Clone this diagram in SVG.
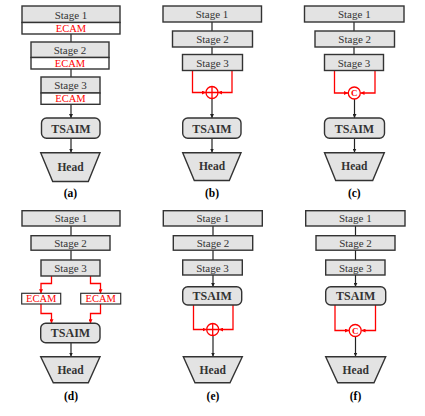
<svg xmlns="http://www.w3.org/2000/svg" width="425" height="416" viewBox="0 0 425 416">
<style>
.st{fill:#e3e3e3;stroke:#333;stroke-width:1.4}
.ec{fill:#fff;stroke:#333;stroke-width:1.4}
.ecr{fill:#fff;stroke:#333;stroke-width:1.2}
.t{font-size:11px;fill:#333;text-anchor:middle}
.e{font-size:10.5px;fill:#f00;text-anchor:middle}
.b{font-size:12px;font-weight:bold;fill:#333;text-anchor:middle}
.h{font-size:11.5px;font-weight:bold;fill:#333;text-anchor:middle}
.lb{font-size:11.5px;font-weight:bold;fill:#000;text-anchor:middle}
.k{fill:none;stroke:#222;stroke-width:1.2}
.ka{fill:none;stroke:#222;stroke-width:1.2;marker-end:url(#ak)}
.r{fill:none;stroke:#f00;stroke-width:1.3}
.ra{fill:none;stroke:#f00;stroke-width:1.3;marker-end:url(#ar)}
.op{fill:#fff;stroke:#f00;stroke-width:1.3}
.c{font-size:9px;font-weight:bold;fill:#f00;text-anchor:middle}
</style>
<defs>
<marker id="ak" viewBox="0 0 6 6" refX="6" refY="3" markerWidth="4" markerHeight="4" orient="auto" markerUnits="userSpaceOnUse"><path d="M0,0 L6,3 L0,6 z" fill="#222"/></marker>
<marker id="ar" viewBox="0 0 6 6" refX="6" refY="3" markerWidth="4" markerHeight="4" orient="auto" markerUnits="userSpaceOnUse"><path d="M0,0 L6,3 L0,6 z" fill="#f00"/></marker>
</defs>

<g id="connectors">
<path class="k" d="M71,34 V42 M71,69 V77"/>
<path class="ka" d="M71,104 V118"/>
<path class="ka" d="M71,138 V152.5"/>
<path class="k" d="M212,22 V31 M212,47 V54.5"/>
<path class="ra" d="M192.5,70.5 V92.5 H206"/>
<path class="ra" d="M232,70.5 V92.5 H218"/>
<path class="ka" d="M212,98.5 V118"/>
<path class="ka" d="M212,138 V152.5"/>
<path class="k" d="M354,22 V31 M354,47 V54.5"/>
<path class="ra" d="M334.5,70.5 V93 H348"/>
<path class="ra" d="M375,70.5 V93 H360.5"/>
<path class="ka" d="M354.5,99 V118"/>
<path class="ka" d="M354.5,138 V152.5"/>
<path class="k" d="M71,226 V235.5 M71,250 V260"/>
<path class="ra" d="M51.5,276 V283.5 H41 V293.3"/>
<path class="ra" d="M90.5,276 V283.5 H100.5 V293.3"/>
<path class="ra" d="M41,304 V313.5 H51.5 V323.3"/>
<path class="ra" d="M100.5,304 V313.5 H90.5 V323.3"/>
<path class="ka" d="M71,342.7 V356.5"/>
<path class="k" d="M213,226 V235.5 M213,250 V260"/>
<path class="ka" d="M213,275 V286.7"/>
<path class="ra" d="M193.5,305 V329.5 H206.5"/>
<path class="ra" d="M233,305 V329.5 H219"/>
<path class="ka" d="M213,335.5 V356.5"/>
<path class="k" d="M355.5,226 V235.5 M355.5,250 V260"/>
<path class="ka" d="M355.5,275 V286.7"/>
<path class="ra" d="M335,305 V330.5 H349"/>
<path class="ra" d="M375.5,305 V330.5 H361.5"/>
<path class="ka" d="M355.5,336.5 V356.5"/>
</g>

<g font-family="Liberation Serif, Times New Roman, serif">
<g id="a-stage1"><rect class="st" x="22" y="6" width="98" height="16.5"/><rect class="ec" x="22" y="22.5" width="98" height="11.5"/><text class="t" x="71" y="18.5">Stage 1</text><text class="e" x="71" y="32">ECAM</text></g>
<g id="a-stage2"><rect class="st" x="31" y="42" width="78" height="15.5"/><rect class="ec" x="31" y="57.5" width="78" height="11.5"/><text class="t" x="70" y="54">Stage 2</text><text class="e" x="70" y="67">ECAM</text></g>
<g id="a-stage3"><rect class="st" x="41" y="77" width="59" height="16"/><rect class="ec" x="41" y="93" width="59" height="11.3"/><text class="t" x="70.5" y="89">Stage 3</text><text class="e" x="70.5" y="102">ECAM</text></g>
<g id="a-tsaim"><rect class="st" x="41.5" y="118" width="58.5" height="20.3" rx="5"/><text class="b" x="71" y="132.5">TSAIM</text></g>
<g id="a-head"><path class="st" d="M40.7,152.7 H100 L88.3,181.5 H52.7 Z"/><text class="h" x="70.5" y="170.5">Head</text></g>
<text class="lb" x="70.5" y="197">(a)</text>

<g id="b-stage1"><rect class="st" x="163" y="6" width="98.5" height="16"/><text class="t" x="212" y="18">Stage 1</text></g>
<g id="b-stage2"><rect class="st" x="172.5" y="31" width="80" height="16"/><text class="t" x="212.5" y="43">Stage 2</text></g>
<g id="b-stage3"><rect class="st" x="182.5" y="54.5" width="60" height="16"/><text class="t" x="212.5" y="66.5">Stage 3</text></g>
<g id="b-add"><circle class="op" cx="212" cy="92.5" r="6"/><path class="r" d="M206,92.5 H218 M212,86.5 V98.5"/></g>
<g id="b-tsaim"><rect class="st" x="182.7" y="118" width="58.3" height="20.3" rx="5"/><text class="b" x="212" y="132.5">TSAIM</text></g>
<g id="b-head"><path class="st" d="M182.7,152.7 H241 L229.3,180.5 H194.3 Z"/><text class="h" x="212" y="170">Head</text></g>
<text class="lb" x="212" y="197">(b)</text>

<g id="c-stage1"><rect class="st" x="304.5" y="6" width="99.5" height="16"/><text class="t" x="354.3" y="18">Stage 1</text></g>
<g id="c-stage2"><rect class="st" x="315" y="31" width="79.5" height="16"/><text class="t" x="354.7" y="43">Stage 2</text></g>
<g id="c-stage3"><rect class="st" x="324.5" y="54.5" width="59" height="16"/><text class="t" x="354" y="66.5">Stage 3</text></g>
<g id="c-concat"><circle class="op" cx="354.3" cy="93" r="6"/><text class="c" x="354.3" y="96.2">C</text></g>
<g id="c-tsaim"><rect class="st" x="324.5" y="118" width="60" height="20.3" rx="5"/><text class="b" x="354.5" y="132.5">TSAIM</text></g>
<g id="c-head"><path class="st" d="M324.5,152.7 H384.3 L372.7,180.5 H335.7 Z"/><text class="h" x="354.3" y="170">Head</text></g>
<text class="lb" x="354.3" y="197">(c)</text>

<g id="d-stage1"><rect class="st" x="22" y="210.7" width="98" height="15.3"/><text class="t" x="71" y="222.3">Stage 1</text></g>
<g id="d-stage2"><rect class="st" x="31" y="235.7" width="79" height="14.5"/><text class="t" x="70.5" y="246.7">Stage 2</text></g>
<g id="d-stage3"><rect class="st" x="41" y="260" width="59" height="16"/><text class="t" x="70.5" y="272">Stage 3</text></g>
<g id="d-ecam1"><rect class="ecr" x="21.7" y="293.3" width="39" height="10.7"/><text class="e" x="41.2" y="302.3">ECAM</text></g>
<g id="d-ecam2"><rect class="ecr" x="80.7" y="293.3" width="40" height="10.7"/><text class="e" x="100.7" y="302.3">ECAM</text></g>
<g id="d-tsaim"><rect class="st" x="40.7" y="323.3" width="59.3" height="19.4" rx="5"/><text class="b" x="70.5" y="337.3">TSAIM</text></g>
<g id="d-head"><path class="st" d="M40.7,356.7 H100 L88.3,382.7 H53.3 Z"/><text class="h" x="70.5" y="373.5">Head</text></g>
<text class="lb" x="71" y="400">(d)</text>

<g id="e-stage1"><rect class="st" x="163.3" y="210.7" width="99" height="15.3"/><text class="t" x="212.8" y="222.3">Stage 1</text></g>
<g id="e-stage2"><rect class="st" x="173.3" y="235.7" width="79.4" height="14.5"/><text class="t" x="213" y="246.7">Stage 2</text></g>
<g id="e-stage3"><rect class="st" x="182.7" y="260" width="59.6" height="15"/><text class="t" x="212.5" y="271.5">Stage 3</text></g>
<g id="e-tsaim"><rect class="st" x="182.7" y="286.7" width="59" height="18.3" rx="5"/><text class="b" x="212.2" y="300">TSAIM</text></g>
<g id="e-add"><circle class="op" cx="212.7" cy="329.5" r="6"/><path class="r" d="M206.7,329.5 H218.7 M212.7,323.5 V335.5"/></g>
<g id="e-head"><path class="st" d="M183.3,356.7 H242.3 L230,382.7 H195 Z"/><text class="h" x="212.7" y="373.5">Head</text></g>
<text class="lb" x="213" y="400">(e)</text>

<g id="f-stage1"><rect class="st" x="305.7" y="210.7" width="99.3" height="15.3"/><text class="t" x="355.3" y="222.3">Stage 1</text></g>
<g id="f-stage2"><rect class="st" x="316" y="235.7" width="79" height="14.5"/><text class="t" x="355.5" y="246.7">Stage 2</text></g>
<g id="f-stage3"><rect class="st" x="325.7" y="260" width="59.3" height="15"/><text class="t" x="355.3" y="271.5">Stage 3</text></g>
<g id="f-tsaim"><rect class="st" x="325.7" y="286.7" width="60" height="18.3" rx="5"/><text class="b" x="355.7" y="300">TSAIM</text></g>
<g id="f-concat"><circle class="op" cx="355.2" cy="330.5" r="6"/><text class="c" x="355.2" y="333.7">C</text></g>
<g id="f-head"><path class="st" d="M325.7,356.7 H385.7 L374,382.7 H337.7 Z"/><text class="h" x="355.7" y="373.5">Head</text></g>
<text class="lb" x="355.5" y="400">(f)</text>
</g>
</svg>
